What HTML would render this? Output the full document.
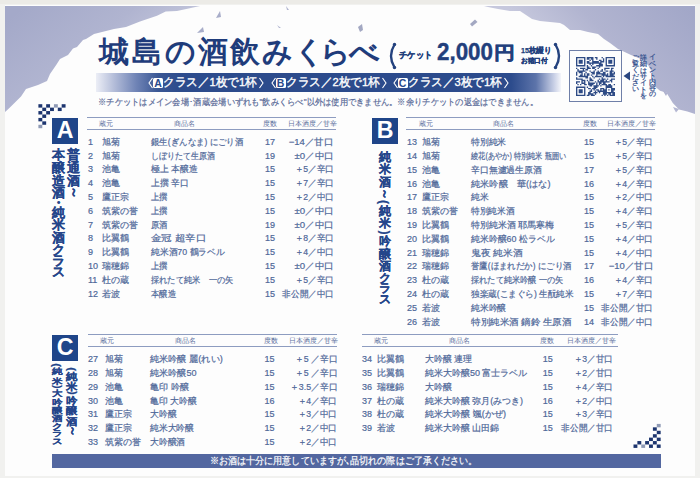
<!DOCTYPE html>
<html><head><meta charset="utf-8">
<style>
*{margin:0;padding:0;box-sizing:border-box}
html,body{width:700px;height:478px;overflow:hidden;background:#f1f1ef}
body{position:relative;font-family:"Liberation Sans",sans-serif;color:#3b5a92}
#paper{position:absolute;left:5px;top:5px;width:690px;height:471px;background:#fdfdfd}
.abs{position:absolute;white-space:nowrap}
.hl{position:absolute;height:1px;background:#8d9cc0}
.hd{position:absolute;font-size:7px;line-height:8px;color:#5a6e9c;white-space:nowrap;text-align:center}
.c{position:absolute;font-size:9px;line-height:12px;white-space:nowrap;color:#4f6899;-webkit-text-stroke:0.2px #4f6899}
.p span{display:inline-block;transform-origin:0 50%}
.v{text-align:right}
.box{position:absolute;background:#1f4589;color:#fff;font-weight:bold;text-align:center}
.vc,.vs{position:absolute;font-weight:bold;text-align:center;white-space:nowrap}
.vc{-webkit-text-stroke:0.2px #24458a}
.vs{font-weight:bold}
.lbox{position:absolute;width:10px;height:10px;background:#fff;color:#2a4a8c;border-radius:1.5px;font-size:10.5px;line-height:10.5px;text-align:center;font-weight:bold}
.tc{position:absolute;top:33px;width:40px;text-align:center;font-size:30px;line-height:38px;font-weight:bold;color:#1f3c7b}
</style></head><body>
<div id="paper"></div>
<svg class="abs" style="left:0;top:0" width="700" height="478" viewBox="0 0 700 478">
<defs>
<linearGradient id="gl" gradientUnits="userSpaceOnUse" x1="20" y1="10" x2="90" y2="100">
<stop offset="0" stop-color="#a4a9c9"/><stop offset="0.6" stop-color="#b0b4d0"/><stop offset="1" stop-color="#c2c5db"/>
</linearGradient>
<linearGradient id="gr" gradientUnits="userSpaceOnUse" x1="690" y1="10" x2="600" y2="100">
<stop offset="0" stop-color="#a2a7c8"/><stop offset="0.6" stop-color="#b1b4d0"/><stop offset="1" stop-color="#c6c8dd"/>
</linearGradient>
</defs>
<rect x="0" y="0" width="700" height="4" fill="#ecebe7"/>
<polygon fill="url(#gl)" points="5,6 200,6 188.6,8.6 177,10.9 165.7,11.4 157,15.7 140,21.4 126,27 114,29 94,34 86,39 83,40 77,47 73,48.5 68,55 60,59 56.5,64.5 50,74 47,81 38,85 26,89 21,96.5 9.4,108 5.6,111.5 5,112"/>
<polygon fill="url(#gr)" points="484,6 695,6 695,114 687.4,111.6 679,109.5 672.8,103 666.5,92.8 660,90.7 655,86.5 652,72 648,65 641,59 631,55 622.5,51 618,49 610,43 604,39 598,34 588,32 580,30 570,30 564,25 560,23 550,22 540,21 532,19 526,15 520,11 510,11 498,9 488,7"/>
<polygon fill="#aeb1cd" points="663,91 667.5,93 666,96"/>
<polygon fill="#b4b7d2" points="673,107 679,109 676,112.6"/>
<polygon fill="#a8adc9" points="216,18 220,11 221,17"/>
<polygon fill="#a8adc9" points="197,33 203,27 204,32"/>
<polygon fill="#b0b4cf" points="286,6 289,10 287,10"/>
<polygon fill="#b0b4cf" points="277,25 281,28 279,28"/>
<polygon fill="#a3a8c2" points="358,27 362,24 363,30 360,32"/>
<polygon fill="#a3a8c2" points="470,24 475,19.5 477.5,22 472,26.5"/>
<rect x="38.4" y="104.2" width="3.88" height="3.43" fill="#1d356f"/>
<rect x="46.16" y="104.2" width="3.88" height="3.43" fill="#1d356f"/>
<rect x="53.92" y="104.2" width="3.88" height="3.43" fill="#8f9ab5"/>
<rect x="61.68" y="104.2" width="3.88" height="3.43" fill="#1d356f"/>
<rect x="42.28" y="107.63" width="3.88" height="3.43" fill="#1d356f"/>
<rect x="50.04" y="107.63" width="3.88" height="3.43" fill="#1d356f"/>
<rect x="57.8" y="107.63" width="3.88" height="3.43" fill="#1d356f"/>
<rect x="38.4" y="111.06" width="3.88" height="3.43" fill="#1d356f"/>
<rect x="46.16" y="111.06" width="3.88" height="3.43" fill="#1d356f"/>
<rect x="42.28" y="114.49" width="3.88" height="3.43" fill="#1d356f"/>
<rect x="38.4" y="117.92" width="3.88" height="3.43" fill="#1d356f"/>
<rect x="42.28" y="121.35" width="3.88" height="3.43" fill="#1d356f"/>
<rect x="38.4" y="124.78" width="3.88" height="3.43" fill="#8f9ab5"/>
<rect x="656.78" y="423.9" width="3.88" height="3.43" fill="#8f9ab5"/>
<rect x="652.9" y="427.33" width="3.88" height="3.43" fill="#1d356f"/>
<rect x="656.78" y="430.76" width="3.88" height="3.43" fill="#1d356f"/>
<rect x="652.9" y="434.19" width="3.88" height="3.43" fill="#1d356f"/>
<rect x="649.02" y="437.62" width="3.88" height="3.43" fill="#1d356f"/>
<rect x="656.78" y="437.62" width="3.88" height="3.43" fill="#1d356f"/>
<rect x="637.38" y="441.05" width="3.88" height="3.43" fill="#1d356f"/>
<rect x="645.14" y="441.05" width="3.88" height="3.43" fill="#1d356f"/>
<rect x="652.9" y="441.05" width="3.88" height="3.43" fill="#1d356f"/>
<rect x="633.5" y="444.48" width="3.88" height="3.43" fill="#1d356f"/>
<rect x="641.26" y="444.48" width="3.88" height="3.43" fill="#8f9ab5"/>
<rect x="649.02" y="444.48" width="3.88" height="3.43" fill="#1d356f"/>
<rect x="656.78" y="444.48" width="3.88" height="3.43" fill="#1d356f"/>
</svg>

<div class="tc" style="left:93.8px">城</div>
<div class="tc" style="left:127.19999999999999px">島</div>
<div class="tc" style="left:160.3px">の</div>
<div class="tc" style="left:192.8px">酒</div>
<div class="tc" style="left:225px">飲</div>
<div class="tc" style="left:257.2px">み</div>
<div class="tc" style="left:289.2px">く</div>
<div class="tc" style="left:315.4px">ら</div>
<div class="tc" style="left:344.6px">べ</div>
<svg class="abs" style="left:386px;top:42px" width="12" height="28" viewBox="0 0 12 28"><path d="M8.5,2.5 Q1.5,14 8.5,25.5" fill="none" stroke="#24427e" stroke-width="2.4" stroke-linecap="round"/><circle cx="8.5" cy="2.5" r="1.7" fill="#24427e"/><circle cx="8.5" cy="25.5" r="1.7" fill="#24427e"/></svg>
<svg class="abs" style="left:552px;top:42px" width="12" height="28" viewBox="0 0 12 28"><path d="M3.5,2.5 Q10.5,14 3.5,25.5" fill="none" stroke="#24427e" stroke-width="2.4" stroke-linecap="round"/><circle cx="3.5" cy="2.5" r="1.7" fill="#24427e"/><circle cx="3.5" cy="25.5" r="1.7" fill="#24427e"/></svg>
<div class="abs" style="left:96px;top:73px;width:465px;height:18.5px;background:linear-gradient(90deg,#eceef6 0px,#b4bdd9 18px,#7084b6 40px,#3a5794 62px,#2c4b8c 85px,#2c4b8c 415px,#5d74aa 440px,#c9d0e6 458px,#f4f5fa 465px)"></div>
<svg class="abs" style="left:148px;top:77px" width="6" height="12" viewBox="0 0 6 12"><path d="M4.5,1 L1,6 L4.5,11" fill="none" stroke="#fff" stroke-width="1.1"/></svg>
<div class="abs lbox" style="left:153px;top:77.5px">A</div>
<div class="abs" style="left:163px;top:75px;font-size:11.5px;line-height:15px;color:#fff;-webkit-text-stroke:0.35px #fff"><span id="p79" style="display:inline-block;transform-origin:0 50%;transform:scaleX(0.971)">クラス／1枚で1杯</span></div>
<svg class="abs" style="left:258px;top:77px" width="6" height="12" viewBox="0 0 6 12"><path d="M1.5,1 L5,6 L1.5,11" fill="none" stroke="#fff" stroke-width="1.1"/></svg>
<svg class="abs" style="left:270.5px;top:77px" width="6" height="12" viewBox="0 0 6 12"><path d="M4.5,1 L1,6 L4.5,11" fill="none" stroke="#fff" stroke-width="1.1"/></svg>
<div class="abs lbox" style="left:275.5px;top:77.5px">B</div>
<div class="abs" style="left:285.5px;top:75px;font-size:11.5px;line-height:15px;color:#fff;-webkit-text-stroke:0.35px #fff"><span id="p80" style="display:inline-block;transform-origin:0 50%;transform:scaleX(0.971)">クラス／2枚で1杯</span></div>
<svg class="abs" style="left:380.5px;top:77px" width="6" height="12" viewBox="0 0 6 12"><path d="M1.5,1 L5,6 L1.5,11" fill="none" stroke="#fff" stroke-width="1.1"/></svg>
<svg class="abs" style="left:392.5px;top:77px" width="6" height="12" viewBox="0 0 6 12"><path d="M4.5,1 L1,6 L4.5,11" fill="none" stroke="#fff" stroke-width="1.1"/></svg>
<div class="abs lbox" style="left:397.5px;top:77.5px">C</div>
<div class="abs" style="left:407.5px;top:75px;font-size:11.5px;line-height:15px;color:#fff;-webkit-text-stroke:0.35px #fff"><span id="p81" style="display:inline-block;transform-origin:0 50%;transform:scaleX(0.971)">クラス／3枚で1杯</span></div>
<svg class="abs" style="left:502.5px;top:77px" width="6" height="12" viewBox="0 0 6 12"><path d="M1.5,1 L5,6 L1.5,11" fill="none" stroke="#fff" stroke-width="1.1"/></svg>
<div class="abs" style="left:98px;top:97px;font-size:8.8px;line-height:11px;color:#5a6b98;-webkit-text-stroke:0.2px #5a6b98"><span id="p82" style="display:inline-block;transform-origin:0 50%;transform:scaleX(0.918)">※チケットはメイン会場･酒蔵会場いずれも"飲みくらべ"以外は使用できません。※余りチケットの返金はできません。</span></div>
<div class="abs" style="left:398.5px;top:50px;font-size:8.5px;line-height:11px;font-weight:bold;color:#223f7c;-webkit-text-stroke:0.3px #223f7c"><span id="p83" style="display:inline-block;transform-origin:0 50%;transform:scaleX(0.931)">チケット</span></div>
<div class="abs" style="left:437px;top:39px;font-size:23.5px;line-height:27px;font-weight:bold;color:#223f7c;-webkit-text-stroke:0.4px #223f7c"><span id="p84" style="display:inline-block;transform-origin:0 50%;transform:scaleX(0.952)">2,000</span></div>
<div class="abs" style="left:493.5px;top:42px;font-size:18px;line-height:22px;font-weight:bold;color:#223f7c;-webkit-text-stroke:0.5px #223f7c"><span id="p85" style="display:inline-block;transform-origin:0 50%;transform:scaleX(1.167)">円</span></div>
<div class="abs" style="left:520.5px;top:45.5px;font-size:7.5px;line-height:10px;font-weight:bold;color:#223f7c;-webkit-text-stroke:0.25px #223f7c"><span id="p86" style="display:inline-block;transform-origin:0 50%;transform:scaleX(0.943)">15枚綴り</span></div>
<div class="abs" style="left:520.5px;top:55.5px;font-size:7px;line-height:10px;font-weight:bold;color:#223f7c;-webkit-text-stroke:0.25px #223f7c"><span id="p87" style="display:inline-block;transform-origin:0 50%;transform:scaleX(0.964)">お猪口付</span></div>
<div class="abs" style="left:52px;top:454px;width:609px;height:14px;background:#5367a0"></div>
<div class="abs" style="left:210px;top:454px;font-size:10px;line-height:14px;color:#fff;-webkit-text-stroke:0.2px #fff"><span id="p88" style="display:inline-block;transform-origin:0 50%;transform:scaleX(0.905)">※お酒は十分に用意していますが､品切れの際はご了承ください。</span></div>
<!-- QR -->
<div class="abs" style="left:569px;top:50px;width:53px;height:52px;border:1px solid #6f7fa8;background:#fdfdfd"></div>
<svg class="abs" style="left:576px;top:57px" width="39" height="39" viewBox="0 0 29 29"><path d="M0,0h1v1h-1zM1,0h1v1h-1zM2,0h1v1h-1zM3,0h1v1h-1zM4,0h1v1h-1zM5,0h1v1h-1zM6,0h1v1h-1zM8,0h1v1h-1zM9,0h1v1h-1zM10,0h1v1h-1zM11,0h1v1h-1zM12,0h1v1h-1zM14,0h1v1h-1zM15,0h1v1h-1zM19,0h1v1h-1zM22,0h1v1h-1zM23,0h1v1h-1zM24,0h1v1h-1zM25,0h1v1h-1zM26,0h1v1h-1zM27,0h1v1h-1zM28,0h1v1h-1zM0,1h1v1h-1zM6,1h1v1h-1zM8,1h1v1h-1zM9,1h1v1h-1zM11,1h1v1h-1zM12,1h1v1h-1zM15,1h1v1h-1zM20,1h1v1h-1zM22,1h1v1h-1zM28,1h1v1h-1zM0,2h1v1h-1zM2,2h1v1h-1zM3,2h1v1h-1zM4,2h1v1h-1zM6,2h1v1h-1zM10,2h1v1h-1zM12,2h1v1h-1zM17,2h1v1h-1zM18,2h1v1h-1zM20,2h1v1h-1zM22,2h1v1h-1zM24,2h1v1h-1zM25,2h1v1h-1zM26,2h1v1h-1zM28,2h1v1h-1zM0,3h1v1h-1zM2,3h1v1h-1zM3,3h1v1h-1zM4,3h1v1h-1zM6,3h1v1h-1zM8,3h1v1h-1zM9,3h1v1h-1zM12,3h1v1h-1zM13,3h1v1h-1zM14,3h1v1h-1zM15,3h1v1h-1zM16,3h1v1h-1zM18,3h1v1h-1zM19,3h1v1h-1zM20,3h1v1h-1zM22,3h1v1h-1zM24,3h1v1h-1zM25,3h1v1h-1zM26,3h1v1h-1zM28,3h1v1h-1zM0,4h1v1h-1zM2,4h1v1h-1zM3,4h1v1h-1zM4,4h1v1h-1zM6,4h1v1h-1zM8,4h1v1h-1zM9,4h1v1h-1zM10,4h1v1h-1zM11,4h1v1h-1zM12,4h1v1h-1zM13,4h1v1h-1zM14,4h1v1h-1zM15,4h1v1h-1zM16,4h1v1h-1zM17,4h1v1h-1zM18,4h1v1h-1zM22,4h1v1h-1zM24,4h1v1h-1zM25,4h1v1h-1zM26,4h1v1h-1zM28,4h1v1h-1zM0,5h1v1h-1zM6,5h1v1h-1zM10,5h1v1h-1zM12,5h1v1h-1zM17,5h1v1h-1zM18,5h1v1h-1zM19,5h1v1h-1zM22,5h1v1h-1zM28,5h1v1h-1zM0,6h1v1h-1zM1,6h1v1h-1zM2,6h1v1h-1zM3,6h1v1h-1zM4,6h1v1h-1zM5,6h1v1h-1zM6,6h1v1h-1zM8,6h1v1h-1zM11,6h1v1h-1zM15,6h1v1h-1zM16,6h1v1h-1zM17,6h1v1h-1zM18,6h1v1h-1zM19,6h1v1h-1zM22,6h1v1h-1zM23,6h1v1h-1zM24,6h1v1h-1zM25,6h1v1h-1zM26,6h1v1h-1zM27,6h1v1h-1zM28,6h1v1h-1zM8,7h1v1h-1zM9,7h1v1h-1zM12,7h1v1h-1zM13,7h1v1h-1zM14,7h1v1h-1zM17,7h1v1h-1zM0,8h1v1h-1zM3,8h1v1h-1zM4,8h1v1h-1zM5,8h1v1h-1zM6,8h1v1h-1zM8,8h1v1h-1zM9,8h1v1h-1zM10,8h1v1h-1zM12,8h1v1h-1zM13,8h1v1h-1zM16,8h1v1h-1zM21,8h1v1h-1zM22,8h1v1h-1zM23,8h1v1h-1zM24,8h1v1h-1zM26,8h1v1h-1zM27,8h1v1h-1zM1,9h1v1h-1zM5,9h1v1h-1zM7,9h1v1h-1zM8,9h1v1h-1zM14,9h1v1h-1zM19,9h1v1h-1zM21,9h1v1h-1zM26,9h1v1h-1zM1,10h1v1h-1zM2,10h1v1h-1zM3,10h1v1h-1zM4,10h1v1h-1zM5,10h1v1h-1zM6,10h1v1h-1zM10,10h1v1h-1zM13,10h1v1h-1zM16,10h1v1h-1zM18,10h1v1h-1zM19,10h1v1h-1zM22,10h1v1h-1zM23,10h1v1h-1zM25,10h1v1h-1zM26,10h1v1h-1zM27,10h1v1h-1zM0,11h1v1h-1zM2,11h1v1h-1zM3,11h1v1h-1zM4,11h1v1h-1zM7,11h1v1h-1zM11,11h1v1h-1zM12,11h1v1h-1zM13,11h1v1h-1zM15,11h1v1h-1zM16,11h1v1h-1zM17,11h1v1h-1zM20,11h1v1h-1zM21,11h1v1h-1zM25,11h1v1h-1zM26,11h1v1h-1zM28,11h1v1h-1zM0,12h1v1h-1zM4,12h1v1h-1zM6,12h1v1h-1zM8,12h1v1h-1zM9,12h1v1h-1zM12,12h1v1h-1zM13,12h1v1h-1zM15,12h1v1h-1zM16,12h1v1h-1zM17,12h1v1h-1zM18,12h1v1h-1zM19,12h1v1h-1zM20,12h1v1h-1zM21,12h1v1h-1zM23,12h1v1h-1zM25,12h1v1h-1zM26,12h1v1h-1zM27,12h1v1h-1zM28,12h1v1h-1zM0,13h1v1h-1zM3,13h1v1h-1zM4,13h1v1h-1zM6,13h1v1h-1zM8,13h1v1h-1zM9,13h1v1h-1zM11,13h1v1h-1zM15,13h1v1h-1zM19,13h1v1h-1zM20,13h1v1h-1zM21,13h1v1h-1zM22,13h1v1h-1zM23,13h1v1h-1zM25,13h1v1h-1zM26,13h1v1h-1zM27,13h1v1h-1zM2,14h1v1h-1zM3,14h1v1h-1zM4,14h1v1h-1zM5,14h1v1h-1zM6,14h1v1h-1zM7,14h1v1h-1zM8,14h1v1h-1zM12,14h1v1h-1zM14,14h1v1h-1zM15,14h1v1h-1zM16,14h1v1h-1zM17,14h1v1h-1zM18,14h1v1h-1zM20,14h1v1h-1zM22,14h1v1h-1zM23,14h1v1h-1zM24,14h1v1h-1zM25,14h1v1h-1zM26,14h1v1h-1zM27,14h1v1h-1zM28,14h1v1h-1zM0,15h1v1h-1zM7,15h1v1h-1zM8,15h1v1h-1zM10,15h1v1h-1zM13,15h1v1h-1zM19,15h1v1h-1zM0,16h1v1h-1zM1,16h1v1h-1zM2,16h1v1h-1zM3,16h1v1h-1zM4,16h1v1h-1zM10,16h1v1h-1zM11,16h1v1h-1zM17,16h1v1h-1zM19,16h1v1h-1zM20,16h1v1h-1zM21,16h1v1h-1zM23,16h1v1h-1zM26,16h1v1h-1zM27,16h1v1h-1zM28,16h1v1h-1zM4,17h1v1h-1zM5,17h1v1h-1zM6,17h1v1h-1zM8,17h1v1h-1zM10,17h1v1h-1zM11,17h1v1h-1zM12,17h1v1h-1zM16,17h1v1h-1zM18,17h1v1h-1zM19,17h1v1h-1zM20,17h1v1h-1zM22,17h1v1h-1zM25,17h1v1h-1zM26,17h1v1h-1zM0,18h1v1h-1zM1,18h1v1h-1zM2,18h1v1h-1zM4,18h1v1h-1zM6,18h1v1h-1zM9,18h1v1h-1zM14,18h1v1h-1zM16,18h1v1h-1zM17,18h1v1h-1zM18,18h1v1h-1zM19,18h1v1h-1zM20,18h1v1h-1zM21,18h1v1h-1zM22,18h1v1h-1zM23,18h1v1h-1zM24,18h1v1h-1zM26,18h1v1h-1zM0,19h1v1h-1zM4,19h1v1h-1zM5,19h1v1h-1zM6,19h1v1h-1zM9,19h1v1h-1zM10,19h1v1h-1zM11,19h1v1h-1zM12,19h1v1h-1zM13,19h1v1h-1zM15,19h1v1h-1zM17,19h1v1h-1zM18,19h1v1h-1zM20,19h1v1h-1zM21,19h1v1h-1zM1,20h1v1h-1zM3,20h1v1h-1zM6,20h1v1h-1zM7,20h1v1h-1zM9,20h1v1h-1zM10,20h1v1h-1zM11,20h1v1h-1zM12,20h1v1h-1zM15,20h1v1h-1zM17,20h1v1h-1zM19,20h1v1h-1zM20,20h1v1h-1zM21,20h1v1h-1zM22,20h1v1h-1zM24,20h1v1h-1zM25,20h1v1h-1zM28,20h1v1h-1zM10,21h1v1h-1zM11,21h1v1h-1zM13,21h1v1h-1zM14,21h1v1h-1zM15,21h1v1h-1zM16,21h1v1h-1zM18,21h1v1h-1zM22,21h1v1h-1zM23,21h1v1h-1zM24,21h1v1h-1zM25,21h1v1h-1zM26,21h1v1h-1zM0,22h1v1h-1zM1,22h1v1h-1zM2,22h1v1h-1zM3,22h1v1h-1zM4,22h1v1h-1zM5,22h1v1h-1zM6,22h1v1h-1zM8,22h1v1h-1zM13,22h1v1h-1zM14,22h1v1h-1zM15,22h1v1h-1zM22,22h1v1h-1zM23,22h1v1h-1zM24,22h1v1h-1zM25,22h1v1h-1zM26,22h1v1h-1zM0,23h1v1h-1zM6,23h1v1h-1zM9,23h1v1h-1zM10,23h1v1h-1zM12,23h1v1h-1zM13,23h1v1h-1zM14,23h1v1h-1zM18,23h1v1h-1zM19,23h1v1h-1zM20,23h1v1h-1zM22,23h1v1h-1zM26,23h1v1h-1zM27,23h1v1h-1zM28,23h1v1h-1zM0,24h1v1h-1zM2,24h1v1h-1zM3,24h1v1h-1zM4,24h1v1h-1zM6,24h1v1h-1zM11,24h1v1h-1zM13,24h1v1h-1zM15,24h1v1h-1zM16,24h1v1h-1zM18,24h1v1h-1zM20,24h1v1h-1zM21,24h1v1h-1zM22,24h1v1h-1zM24,24h1v1h-1zM26,24h1v1h-1zM27,24h1v1h-1zM28,24h1v1h-1zM0,25h1v1h-1zM2,25h1v1h-1zM3,25h1v1h-1zM4,25h1v1h-1zM6,25h1v1h-1zM10,25h1v1h-1zM11,25h1v1h-1zM14,25h1v1h-1zM16,25h1v1h-1zM17,25h1v1h-1zM18,25h1v1h-1zM19,25h1v1h-1zM20,25h1v1h-1zM21,25h1v1h-1zM22,25h1v1h-1zM26,25h1v1h-1zM27,25h1v1h-1zM0,26h1v1h-1zM2,26h1v1h-1zM3,26h1v1h-1zM4,26h1v1h-1zM6,26h1v1h-1zM9,26h1v1h-1zM10,26h1v1h-1zM13,26h1v1h-1zM14,26h1v1h-1zM15,26h1v1h-1zM17,26h1v1h-1zM20,26h1v1h-1zM21,26h1v1h-1zM22,26h1v1h-1zM23,26h1v1h-1zM24,26h1v1h-1zM25,26h1v1h-1zM26,26h1v1h-1zM27,26h1v1h-1zM28,26h1v1h-1zM0,27h1v1h-1zM6,27h1v1h-1zM9,27h1v1h-1zM10,27h1v1h-1zM11,27h1v1h-1zM12,27h1v1h-1zM14,27h1v1h-1zM20,27h1v1h-1zM21,27h1v1h-1zM22,27h1v1h-1zM24,27h1v1h-1zM25,27h1v1h-1zM27,27h1v1h-1zM28,27h1v1h-1zM0,28h1v1h-1zM1,28h1v1h-1zM2,28h1v1h-1zM3,28h1v1h-1zM4,28h1v1h-1zM5,28h1v1h-1zM6,28h1v1h-1zM8,28h1v1h-1zM9,28h1v1h-1zM11,28h1v1h-1zM12,28h1v1h-1zM13,28h1v1h-1zM19,28h1v1h-1zM21,28h1v1h-1zM23,28h1v1h-1zM25,28h1v1h-1zM26,28h1v1h-1zM27,28h1v1h-1zM28,28h1v1h-1z" fill="#2e4b85"/></svg>
<svg class="abs" style="left:623px;top:71px" width="8" height="10" viewBox="0 0 8 10"><polygon points="7,0.5 7,9.5 0.5,5" fill="#2a4680"/></svg>

<!-- section boxes -->
<div class="box" style="left:52px;top:117.5px;width:26px;height:26px;font-size:23.2px;line-height:25.5px">A</div>
<div class="box" style="left:372px;top:117.5px;width:26px;height:26px;font-size:23.2px;line-height:25.5px">B</div>
<div class="box" style="left:52px;top:334.5px;width:26px;height:26px;font-size:23.2px;line-height:25.5px">C</div>

<div class="vc" style="left:51.5px;top:149.4px;width:13px;height:12.599999999999994px;font-size:12.5px;line-height:12.599999999999994px;color:#24458a"><span style="display:inline-block;">本</span></div>
<div class="vc" style="left:51.5px;top:162.0px;width:13px;height:12.599999999999994px;font-size:12.5px;line-height:12.599999999999994px;color:#24458a"><span style="display:inline-block;">醸</span></div>
<div class="vc" style="left:51.5px;top:174.6px;width:13px;height:12.599999999999994px;font-size:12.5px;line-height:12.599999999999994px;color:#24458a"><span style="display:inline-block;">造</span></div>
<div class="vc" style="left:51.5px;top:187.2px;width:13px;height:12.600000000000023px;font-size:12.5px;line-height:12.600000000000023px;color:#24458a"><span style="display:inline-block;">酒</span></div>
<div class="vc" style="left:51.5px;top:199.8px;width:13px;height:7.0px;font-size:12.5px;line-height:7.0px;color:#24458a"><span style="display:inline-block;">・</span></div>
<div class="vc" style="left:51.5px;top:206.8px;width:13px;height:12.599999999999994px;font-size:12.5px;line-height:12.599999999999994px;color:#24458a"><span style="display:inline-block;">純</span></div>
<div class="vc" style="left:51.5px;top:219.4px;width:13px;height:12.599999999999994px;font-size:12.5px;line-height:12.599999999999994px;color:#24458a"><span style="display:inline-block;">米</span></div>
<div class="vc" style="left:51.5px;top:232.0px;width:13px;height:12.599999999999994px;font-size:12.5px;line-height:12.599999999999994px;color:#24458a"><span style="display:inline-block;">酒</span></div>
<div class="vc" style="left:51.5px;top:244.6px;width:13px;height:11.0px;font-size:12.5px;line-height:11.0px;color:#24458a"><span style="display:inline-block;">ク</span></div>
<div class="vc" style="left:51.5px;top:255.6px;width:13px;height:11.000000000000028px;font-size:12.5px;line-height:11.000000000000028px;color:#24458a"><span style="display:inline-block;">ラ</span></div>
<div class="vc" style="left:51.5px;top:266.6px;width:13px;height:11.0px;font-size:12.5px;line-height:11.0px;color:#24458a"><span style="display:inline-block;">ス</span></div>
<div class="vc" style="left:66.5px;top:149.4px;width:13px;height:12.599999999999994px;font-size:12.5px;line-height:12.599999999999994px;color:#24458a"><span style="display:inline-block;">普</span></div>
<div class="vc" style="left:66.5px;top:162.0px;width:13px;height:12.599999999999994px;font-size:12.5px;line-height:12.599999999999994px;color:#24458a"><span style="display:inline-block;">通</span></div>
<div class="vc" style="left:66.5px;top:174.6px;width:13px;height:12.599999999999994px;font-size:12.5px;line-height:12.599999999999994px;color:#24458a"><span style="display:inline-block;">酒</span></div>
<div class="vc" style="left:66.5px;top:187.2px;width:13px;height:11.0px;font-size:12.5px;line-height:11.0px;color:#24458a"><span style="display:inline-block;transform:rotate(90deg)">～</span></div>
<div class="vc" style="left:378px;top:150.7px;width:13px;height:12.600000000000023px;font-size:12.3px;line-height:12.600000000000023px;color:#24458a"><span style="display:inline-block;">純</span></div>
<div class="vc" style="left:378px;top:163.3px;width:13px;height:12.599999999999994px;font-size:12.3px;line-height:12.599999999999994px;color:#24458a"><span style="display:inline-block;">米</span></div>
<div class="vc" style="left:378px;top:175.9px;width:13px;height:12.599999999999994px;font-size:12.3px;line-height:12.599999999999994px;color:#24458a"><span style="display:inline-block;">酒</span></div>
<div class="vc" style="left:378px;top:188.5px;width:13px;height:10.199999999999989px;font-size:12.3px;line-height:10.199999999999989px;color:#24458a"><span style="display:inline-block;transform:rotate(90deg)">～</span></div>
<div class="vc" style="left:378px;top:198.7px;width:13px;height:6.0px;font-size:12.3px;line-height:6.0px;color:#24458a"><span style="display:inline-block;transform:rotate(90deg)">(</span></div>
<div class="vc" style="left:378px;top:204.7px;width:13px;height:12.600000000000023px;font-size:12.3px;line-height:12.600000000000023px;color:#24458a"><span style="display:inline-block;">純</span></div>
<div class="vc" style="left:378px;top:217.3px;width:13px;height:12.599999999999994px;font-size:12.3px;line-height:12.599999999999994px;color:#24458a"><span style="display:inline-block;">米</span></div>
<div class="vc" style="left:378px;top:229.9px;width:13px;height:5.0px;font-size:12.3px;line-height:5.0px;color:#24458a"><span style="display:inline-block;transform:rotate(90deg)">)</span></div>
<div class="vc" style="left:378px;top:234.9px;width:13px;height:12.599999999999994px;font-size:12.3px;line-height:12.599999999999994px;color:#24458a"><span style="display:inline-block;">吟</span></div>
<div class="vc" style="left:378px;top:247.5px;width:13px;height:12.600000000000023px;font-size:12.3px;line-height:12.600000000000023px;color:#24458a"><span style="display:inline-block;">醸</span></div>
<div class="vc" style="left:378px;top:260.1px;width:13px;height:12.599999999999966px;font-size:12.3px;line-height:12.599999999999966px;color:#24458a"><span style="display:inline-block;">酒</span></div>
<div class="vc" style="left:378px;top:272.7px;width:13px;height:10.5px;font-size:12.3px;line-height:10.5px;color:#24458a"><span style="display:inline-block;">ク</span></div>
<div class="vc" style="left:378px;top:283.2px;width:13px;height:10.5px;font-size:12.3px;line-height:10.5px;color:#24458a"><span style="display:inline-block;">ラ</span></div>
<div class="vc" style="left:378px;top:293.7px;width:13px;height:10.5px;font-size:12.3px;line-height:10.5px;color:#24458a"><span style="display:inline-block;">ス</span></div>
<div class="vc" style="left:65.5px;top:366.5px;width:12.5px;height:4.199999999999989px;font-size:11.5px;line-height:4.199999999999989px;color:#24458a"><span style="display:inline-block;transform:rotate(90deg)">(</span></div>
<div class="vc" style="left:65.5px;top:370.7px;width:12.5px;height:10.300000000000011px;font-size:11.5px;line-height:10.300000000000011px;color:#24458a"><span style="display:inline-block;transform:scaleY(0.88)">純</span></div>
<div class="vc" style="left:65.5px;top:381.0px;width:12.5px;height:10.0px;font-size:11.5px;line-height:10.0px;color:#24458a"><span style="display:inline-block;transform:scaleY(0.88)">米</span></div>
<div class="vc" style="left:65.5px;top:391.0px;width:12.5px;height:3.8000000000000114px;font-size:11.5px;line-height:3.8000000000000114px;color:#24458a"><span style="display:inline-block;transform:rotate(90deg)">)</span></div>
<div class="vc" style="left:65.5px;top:394.8px;width:12.5px;height:10.5px;font-size:11.5px;line-height:10.5px;color:#24458a"><span style="display:inline-block;transform:scaleY(0.88)">吟</span></div>
<div class="vc" style="left:65.5px;top:405.3px;width:12.5px;height:10.5px;font-size:11.5px;line-height:10.5px;color:#24458a"><span style="display:inline-block;transform:scaleY(0.88)">醸</span></div>
<div class="vc" style="left:65.5px;top:415.8px;width:12.5px;height:10.5px;font-size:11.5px;line-height:10.5px;color:#24458a"><span style="display:inline-block;transform:scaleY(0.88)">酒</span></div>
<div class="vc" style="left:65.5px;top:426.3px;width:12.5px;height:9.0px;font-size:11.5px;line-height:9.0px;color:#24458a"><span style="display:inline-block;transform:rotate(90deg)">～</span></div>
<div class="vc" style="left:51.5px;top:363.4px;width:11.5px;height:4.0px;font-size:11px;line-height:4.0px;color:#24458a"><span style="display:inline-block;transform:rotate(90deg)">(</span></div>
<div class="vc" style="left:51.5px;top:367.4px;width:11.5px;height:9.5px;font-size:11px;line-height:9.5px;color:#24458a"><span style="display:inline-block;transform:scaleY(0.76)">純</span></div>
<div class="vc" style="left:51.5px;top:376.9px;width:11.5px;height:8.5px;font-size:11px;line-height:8.5px;color:#24458a"><span style="display:inline-block;transform:scaleY(0.76)">米</span></div>
<div class="vc" style="left:51.5px;top:385.4px;width:11.5px;height:3.8000000000000114px;font-size:11px;line-height:3.8000000000000114px;color:#24458a"><span style="display:inline-block;transform:rotate(90deg)">)</span></div>
<div class="vc" style="left:51.5px;top:389.2px;width:11.5px;height:8.400000000000034px;font-size:11px;line-height:8.400000000000034px;color:#24458a"><span style="display:inline-block;transform:scaleY(0.76)">大</span></div>
<div class="vc" style="left:51.5px;top:397.6px;width:11.5px;height:8.399999999999977px;font-size:11px;line-height:8.399999999999977px;color:#24458a"><span style="display:inline-block;transform:scaleY(0.76)">吟</span></div>
<div class="vc" style="left:51.5px;top:406.0px;width:11.5px;height:8.399999999999977px;font-size:11px;line-height:8.399999999999977px;color:#24458a"><span style="display:inline-block;transform:scaleY(0.76)">醸</span></div>
<div class="vc" style="left:51.5px;top:414.4px;width:11.5px;height:8.400000000000034px;font-size:11px;line-height:8.400000000000034px;color:#24458a"><span style="display:inline-block;transform:scaleY(0.76)">酒</span></div>
<div class="vc" style="left:51.5px;top:422.8px;width:11.5px;height:7.399999999999977px;font-size:11px;line-height:7.399999999999977px;color:#24458a"><span style="display:inline-block;transform:scaleY(0.76)">ク</span></div>
<div class="vc" style="left:51.5px;top:430.2px;width:11.5px;height:7.400000000000034px;font-size:11px;line-height:7.400000000000034px;color:#24458a"><span style="display:inline-block;transform:scaleY(0.76)">ラ</span></div>
<div class="vc" style="left:51.5px;top:437.6px;width:11.5px;height:7.399999999999977px;font-size:11px;line-height:7.399999999999977px;color:#24458a"><span style="display:inline-block;transform:scaleY(0.76)">ス</span></div>
<div class="vs" style="left:647.5px;top:54.4px;width:9px;height:6.100000000000001px;font-size:6.5px;line-height:6.100000000000001px;color:#3a5590"><span style="display:inline-block;">イ</span></div>
<div class="vs" style="left:647.5px;top:60.5px;width:9px;height:6.099999999999994px;font-size:6.5px;line-height:6.099999999999994px;color:#3a5590"><span style="display:inline-block;">ベ</span></div>
<div class="vs" style="left:647.5px;top:66.6px;width:9px;height:6.1000000000000085px;font-size:6.5px;line-height:6.1000000000000085px;color:#3a5590"><span style="display:inline-block;">ン</span></div>
<div class="vs" style="left:647.5px;top:72.7px;width:9px;height:6.099999999999994px;font-size:6.5px;line-height:6.099999999999994px;color:#3a5590"><span style="display:inline-block;">ト</span></div>
<div class="vs" style="left:647.5px;top:78.8px;width:9px;height:6.1000000000000085px;font-size:6.5px;line-height:6.1000000000000085px;color:#3a5590"><span style="display:inline-block;">内</span></div>
<div class="vs" style="left:647.5px;top:84.9px;width:9px;height:6.099999999999994px;font-size:6.5px;line-height:6.099999999999994px;color:#3a5590"><span style="display:inline-block;">容</span></div>
<div class="vs" style="left:647.5px;top:91.0px;width:9px;height:6.099999999999994px;font-size:6.5px;line-height:6.099999999999994px;color:#3a5590"><span style="display:inline-block;">の</span></div>
<div class="vs" style="left:638.5px;top:55px;width:9px;height:6.299999999999997px;font-size:6.5px;line-height:6.299999999999997px;color:#3a5590"><span style="display:inline-block;">詳</span></div>
<div class="vs" style="left:638.5px;top:61.3px;width:9px;height:6.299999999999997px;font-size:6.5px;line-height:6.299999999999997px;color:#3a5590"><span style="display:inline-block;">細</span></div>
<div class="vs" style="left:638.5px;top:67.6px;width:9px;height:6.300000000000011px;font-size:6.5px;line-height:6.300000000000011px;color:#3a5590"><span style="display:inline-block;">は</span></div>
<div class="vs" style="left:638.5px;top:73.9px;width:9px;height:6.299999999999997px;font-size:6.5px;line-height:6.299999999999997px;color:#3a5590"><span style="display:inline-block;">サ</span></div>
<div class="vs" style="left:638.5px;top:80.2px;width:9px;height:6.299999999999997px;font-size:6.5px;line-height:6.299999999999997px;color:#3a5590"><span style="display:inline-block;">イ</span></div>
<div class="vs" style="left:638.5px;top:86.5px;width:9px;height:6.299999999999997px;font-size:6.5px;line-height:6.299999999999997px;color:#3a5590"><span style="display:inline-block;">ト</span></div>
<div class="vs" style="left:638.5px;top:92.8px;width:9px;height:6.299999999999997px;font-size:6.5px;line-height:6.299999999999997px;color:#3a5590"><span style="display:inline-block;">を</span></div>
<div class="vs" style="left:630.5px;top:55px;width:9px;height:6.200000000000003px;font-size:6.5px;line-height:6.200000000000003px;color:#3a5590"><span style="display:inline-block;">ご</span></div>
<div class="vs" style="left:630.5px;top:61.2px;width:9px;height:6.200000000000003px;font-size:6.5px;line-height:6.200000000000003px;color:#3a5590"><span style="display:inline-block;">覧</span></div>
<div class="vs" style="left:630.5px;top:67.4px;width:9px;height:6.199999999999989px;font-size:6.5px;line-height:6.199999999999989px;color:#3a5590"><span style="display:inline-block;">く</span></div>
<div class="vs" style="left:630.5px;top:73.6px;width:9px;height:6.200000000000003px;font-size:6.5px;line-height:6.200000000000003px;color:#3a5590"><span style="display:inline-block;">だ</span></div>
<div class="vs" style="left:630.5px;top:79.8px;width:9px;height:6.200000000000003px;font-size:6.5px;line-height:6.200000000000003px;color:#3a5590"><span style="display:inline-block;">さ</span></div>
<div class="vs" style="left:630.5px;top:86.0px;width:9px;height:6.200000000000003px;font-size:6.5px;line-height:6.200000000000003px;color:#3a5590"><span style="display:inline-block;">い</span></div>

<div class="hl" style="left:87px;top:117px;width:249px"></div>
<div class="hl" style="left:87px;top:129px;width:249px"></div>
<div class="hd" style="left:99px;top:120.2px;width:14px">蔵元</div>
<div class="hd" style="left:174px;top:120.2px;width:21.599999999999994px">商品名</div>
<div class="hd" style="left:261.7px;top:120.2px;width:16.30000000000001px">度数</div>
<div class="hd" style="left:288px;top:120.2px;width:46.5px">日本酒度／甘辛</div>
<div class="c" style="left:88px;top:135.8px">1</div>
<div class="c" style="left:102.4px;top:135.8px">旭菊</div>
<div class="c p" style="left:151.3px;top:135.8px"><span id="p1" style="transform:scaleX(0.937)">銀生(ぎんなま) にごり酒</span></div>
<div class="c" style="left:265px;top:135.8px">17</div>
<div class="c v" style="right:366.4px;top:135.8px"><span id="p2" style="display:inline-block;transform-origin:100% 50%;transform:scaleX(1.052)">−14／甘口</span></div>
<div class="c" style="left:88px;top:149.6px">2</div>
<div class="c" style="left:102.4px;top:149.6px">旭菊</div>
<div class="c p" style="left:151.3px;top:149.6px"><span id="p3" style="transform:scaleX(0.885)">しぼりたて生原酒</span></div>
<div class="c" style="left:265px;top:149.6px">19</div>
<div class="c v" style="right:366.4px;top:149.6px"><span id="p4" style="display:inline-block;transform-origin:100% 50%;transform:scaleX(1.069)">±0／中口</span></div>
<div class="c" style="left:88px;top:163.4px">3</div>
<div class="c" style="left:102.4px;top:163.4px">池亀</div>
<div class="c p" style="left:151.3px;top:163.4px"><span id="p5" style="transform:scaleX(0.981)">極上 本醸造</span></div>
<div class="c" style="left:265px;top:163.4px">15</div>
<div class="c v" style="right:366.4px;top:163.4px"><span id="p6" style="display:inline-block;transform-origin:100% 50%;transform:scaleX(0.963)">＋5／辛口</span></div>
<div class="c" style="left:88px;top:177.2px">4</div>
<div class="c" style="left:102.4px;top:177.2px">池亀</div>
<div class="c p" style="left:151.3px;top:177.2px"><span id="p7" style="transform:scaleX(0.979)">上撰 辛口</span></div>
<div class="c" style="left:265px;top:177.2px">15</div>
<div class="c v" style="right:366.4px;top:177.2px"><span id="p8" style="display:inline-block;transform-origin:100% 50%;transform:scaleX(0.963)">＋7／辛口</span></div>
<div class="c" style="left:88px;top:191.0px">5</div>
<div class="c" style="left:102.4px;top:191.0px">鷹正宗</div>
<div class="c p" style="left:151.3px;top:191.0px"><span id="p9" style="transform:scaleX(0.922)">上撰</span></div>
<div class="c" style="left:265px;top:191.0px">15</div>
<div class="c v" style="right:366.4px;top:191.0px"><span id="p10" style="display:inline-block;transform-origin:100% 50%;transform:scaleX(0.963)">＋2／中口</span></div>
<div class="c" style="left:88px;top:204.8px">6</div>
<div class="c" style="left:102.4px;top:204.8px">筑紫の誉</div>
<div class="c p" style="left:151.3px;top:204.8px"><span id="p11" style="transform:scaleX(0.922)">上撰</span></div>
<div class="c" style="left:265px;top:204.8px">15</div>
<div class="c v" style="right:366.4px;top:204.8px"><span id="p12" style="display:inline-block;transform-origin:100% 50%;transform:scaleX(1.069)">±0／中口</span></div>
<div class="c" style="left:88px;top:218.6px">7</div>
<div class="c" style="left:102.4px;top:218.6px">筑紫の誉</div>
<div class="c p" style="left:151.3px;top:218.6px"><span id="p13" style="transform:scaleX(0.922)">原酒</span></div>
<div class="c" style="left:265px;top:218.6px">19</div>
<div class="c v" style="right:366.4px;top:218.6px"><span id="p14" style="display:inline-block;transform-origin:100% 50%;transform:scaleX(1.069)">±0／中口</span></div>
<div class="c" style="left:88px;top:232.4px">8</div>
<div class="c" style="left:102.4px;top:232.4px">比翼鶴</div>
<div class="c p" style="left:151.3px;top:232.4px"><span id="p15" style="transform:scaleX(1.160)">金冠 超辛口</span></div>
<div class="c" style="left:265px;top:232.4px">15</div>
<div class="c v" style="right:366.4px;top:232.4px"><span id="p16" style="display:inline-block;transform-origin:100% 50%;transform:scaleX(0.963)">＋8／辛口</span></div>
<div class="c" style="left:88px;top:246.2px">9</div>
<div class="c" style="left:102.4px;top:246.2px">比翼鶴</div>
<div class="c p" style="left:151.3px;top:246.2px"><span id="p17" style="transform:scaleX(0.976)">純米酒70 鶴ラベル</span></div>
<div class="c" style="left:265px;top:246.2px">15</div>
<div class="c v" style="right:366.4px;top:246.2px"><span id="p18" style="display:inline-block;transform-origin:100% 50%;transform:scaleX(0.963)">＋4／中口</span></div>
<div class="c" style="left:88px;top:260.0px">10</div>
<div class="c" style="left:102.4px;top:260.0px">瑞穂錦</div>
<div class="c p" style="left:151.3px;top:260.0px"><span id="p19" style="transform:scaleX(0.922)">上撰</span></div>
<div class="c" style="left:265px;top:260.0px">15</div>
<div class="c v" style="right:366.4px;top:260.0px"><span id="p20" style="display:inline-block;transform-origin:100% 50%;transform:scaleX(1.069)">±0／中口</span></div>
<div class="c" style="left:88px;top:273.8px">11</div>
<div class="c" style="left:102.4px;top:273.8px">杜の蔵</div>
<div class="c p" style="left:151.3px;top:273.8px"><span id="p21" style="transform:scaleX(0.914)">採れたて純米　一の矢</span></div>
<div class="c" style="left:265px;top:273.8px">15</div>
<div class="c v" style="right:366.4px;top:273.8px"><span id="p22" style="display:inline-block;transform-origin:100% 50%;transform:scaleX(0.963)">＋5／辛口</span></div>
<div class="c" style="left:88px;top:287.6px">12</div>
<div class="c" style="left:102.4px;top:287.6px">若波</div>
<div class="c p" style="left:151.3px;top:287.6px"><span id="p23" style="transform:scaleX(0.930)">本醸造</span></div>
<div class="c" style="left:265px;top:287.6px">15</div>
<div class="c v" style="right:366.4px;top:287.6px"><span id="p24" style="display:inline-block;transform-origin:100% 50%;transform:scaleX(0.956)">非公開／中口</span></div>
<div class="hl" style="left:406px;top:117px;width:249px"></div>
<div class="hl" style="left:406px;top:129px;width:249px"></div>
<div class="hd" style="left:418px;top:120.2px;width:15px">蔵元</div>
<div class="hd" style="left:493px;top:120.2px;width:21.600000000000023px">商品名</div>
<div class="hd" style="left:583px;top:120.2px;width:13.600000000000023px">度数</div>
<div class="hd" style="left:606.7px;top:120.2px;width:47.69999999999993px">日本酒度／甘辛</div>
<div class="c" style="left:407px;top:136.2px">13</div>
<div class="c" style="left:421.5px;top:136.2px">旭菊</div>
<div class="c p" style="left:470.5px;top:136.2px"><span id="p25" style="transform:scaleX(0.981)">特別純米</span></div>
<div class="c" style="left:584px;top:136.2px">15</div>
<div class="c v" style="right:47px;top:136.2px"><span id="p26" style="display:inline-block;transform-origin:100% 50%;transform:scaleX(0.963)">＋5／辛口</span></div>
<div class="c" style="left:407px;top:150.0px">14</div>
<div class="c" style="left:421.5px;top:150.0px">旭菊</div>
<div class="c p" style="left:470.5px;top:150.0px"><span id="p27" style="transform:scaleX(0.800)">綾花(あやか) 特別純米 瓶囲い</span></div>
<div class="c" style="left:584px;top:150.0px">15</div>
<div class="c v" style="right:47px;top:150.0px"><span id="p28" style="display:inline-block;transform-origin:100% 50%;transform:scaleX(0.963)">＋5／辛口</span></div>
<div class="c" style="left:407px;top:163.8px">15</div>
<div class="c" style="left:421.5px;top:163.8px">池亀</div>
<div class="c p" style="left:470.5px;top:163.8px"><span id="p29" style="transform:scaleX(0.985)">辛口無濾過生原酒</span></div>
<div class="c" style="left:584px;top:163.8px">17</div>
<div class="c v" style="right:47px;top:163.8px"><span id="p30" style="display:inline-block;transform-origin:100% 50%;transform:scaleX(0.963)">＋5／辛口</span></div>
<div class="c" style="left:407px;top:177.6px">16</div>
<div class="c" style="left:421.5px;top:177.6px">池亀</div>
<div class="c p" style="left:470.5px;top:177.6px"><span id="p31" style="transform:scaleX(1.019)">純米吟醸　華(はな)</span></div>
<div class="c" style="left:584px;top:177.6px">16</div>
<div class="c v" style="right:47px;top:177.6px"><span id="p32" style="display:inline-block;transform-origin:100% 50%;transform:scaleX(0.963)">＋4／辛口</span></div>
<div class="c" style="left:407px;top:191.4px">17</div>
<div class="c" style="left:421.5px;top:191.4px">鷹正宗</div>
<div class="c p" style="left:470.5px;top:191.4px"><span id="p33" style="transform:scaleX(0.972)">純米</span></div>
<div class="c" style="left:584px;top:191.4px">15</div>
<div class="c v" style="right:47px;top:191.4px"><span id="p34" style="display:inline-block;transform-origin:100% 50%;transform:scaleX(0.963)">＋2／中口</span></div>
<div class="c" style="left:407px;top:205.2px">18</div>
<div class="c" style="left:421.5px;top:205.2px">筑紫の誉</div>
<div class="c p" style="left:470.5px;top:205.2px"><span id="p35" style="transform:scaleX(0.967)">特別純米酒</span></div>
<div class="c" style="left:584px;top:205.2px">15</div>
<div class="c v" style="right:47px;top:205.2px"><span id="p36" style="display:inline-block;transform-origin:100% 50%;transform:scaleX(0.963)">＋4／辛口</span></div>
<div class="c" style="left:407px;top:219.0px">19</div>
<div class="c" style="left:421.5px;top:219.0px">比翼鶴</div>
<div class="c p" style="left:470.5px;top:219.0px"><span id="p37" style="transform:scaleX(0.988)">特別純米酒 耶馬寒梅</span></div>
<div class="c" style="left:584px;top:219.0px">15</div>
<div class="c v" style="right:47px;top:219.0px"><span id="p38" style="display:inline-block;transform-origin:100% 50%;transform:scaleX(0.963)">＋5／辛口</span></div>
<div class="c" style="left:407px;top:232.8px">20</div>
<div class="c" style="left:421.5px;top:232.8px">比翼鶴</div>
<div class="c p" style="left:470.5px;top:232.8px"><span id="p39" style="transform:scaleX(0.988)">純米吟醸60 松ラベル</span></div>
<div class="c" style="left:584px;top:232.8px">15</div>
<div class="c v" style="right:47px;top:232.8px"><span id="p40" style="display:inline-block;transform-origin:100% 50%;transform:scaleX(0.963)">＋4／中口</span></div>
<div class="c" style="left:407px;top:246.6px">21</div>
<div class="c" style="left:421.5px;top:246.6px">瑞穂錦</div>
<div class="c p" style="left:470.5px;top:246.6px"><span id="p41" style="transform:scaleX(1.084)">鬼夜 純米酒</span></div>
<div class="c" style="left:584px;top:246.6px">15</div>
<div class="c v" style="right:47px;top:246.6px"><span id="p42" style="display:inline-block;transform-origin:100% 50%;transform:scaleX(0.963)">＋4／中口</span></div>
<div class="c" style="left:407px;top:260.4px">22</div>
<div class="c" style="left:421.5px;top:260.4px">瑞穂錦</div>
<div class="c p" style="left:470.5px;top:260.4px"><span id="p43" style="transform:scaleX(0.935)">誉鷹(ほまれだか) にごり酒</span></div>
<div class="c" style="left:584px;top:260.4px">17</div>
<div class="c v" style="right:47px;top:260.4px"><span id="p44" style="display:inline-block;transform-origin:100% 50%;transform:scaleX(1.052)">−10／甘口</span></div>
<div class="c" style="left:407px;top:274.2px">23</div>
<div class="c" style="left:421.5px;top:274.2px">杜の蔵</div>
<div class="c p" style="left:470.5px;top:274.2px"><span id="p45" style="transform:scaleX(0.911)">採れたて純米吟醸 一の矢</span></div>
<div class="c" style="left:584px;top:274.2px">16</div>
<div class="c v" style="right:47px;top:274.2px"><span id="p46" style="display:inline-block;transform-origin:100% 50%;transform:scaleX(0.963)">＋4／辛口</span></div>
<div class="c" style="left:407px;top:288.0px">24</div>
<div class="c" style="left:421.5px;top:288.0px">杜の蔵</div>
<div class="c p" style="left:470.5px;top:288.0px"><span id="p47" style="transform:scaleX(0.953)">独楽蔵(こまぐら) 生酛純米</span></div>
<div class="c" style="left:584px;top:288.0px">15</div>
<div class="c v" style="right:47px;top:288.0px"><span id="p48" style="display:inline-block;transform-origin:100% 50%;transform:scaleX(0.963)">＋7／辛口</span></div>
<div class="c" style="left:407px;top:301.8px">25</div>
<div class="c" style="left:421.5px;top:301.8px">若波</div>
<div class="c p" style="left:470.5px;top:301.8px"><span id="p49" style="transform:scaleX(0.981)">純米吟醸</span></div>
<div class="c" style="left:584px;top:301.8px">15</div>
<div class="c v" style="right:47px;top:301.8px"><span id="p50" style="display:inline-block;transform-origin:100% 50%;transform:scaleX(0.956)">非公開／甘口</span></div>
<div class="c" style="left:407px;top:315.6px">26</div>
<div class="c" style="left:421.5px;top:315.6px">若波</div>
<div class="c p" style="left:470.5px;top:315.6px"><span id="p51" style="transform:scaleX(1.058)">特別純米酒 鏑鈴 生原酒</span></div>
<div class="c" style="left:584px;top:315.6px">14</div>
<div class="c v" style="right:47px;top:315.6px"><span id="p52" style="display:inline-block;transform-origin:100% 50%;transform:scaleX(0.956)">非公開／中口</span></div>
<div class="hl" style="left:87.5px;top:334px;width:249.5px"></div>
<div class="hl" style="left:87.5px;top:346px;width:249.5px"></div>
<div class="hd" style="left:100px;top:337.2px;width:14px">蔵元</div>
<div class="hd" style="left:175px;top:337.2px;width:20.5px">商品名</div>
<div class="hd" style="left:263.8px;top:337.2px;width:13.899999999999977px">度数</div>
<div class="hd" style="left:289px;top:337.2px;width:46.5px">日本酒度／甘辛</div>
<div class="c" style="left:88px;top:352.7px">27</div>
<div class="c" style="left:105px;top:352.7px">旭菊</div>
<div class="c p" style="left:150.3px;top:352.7px"><span id="p53" style="transform:scaleX(1.017)">純米吟醸 麗(れい)</span></div>
<div class="c" style="left:264.6px;top:352.7px">15</div>
<div class="c v" style="right:362.5px;top:352.7px"><span id="p54" style="display:inline-block;transform-origin:100% 50%;transform:scaleX(0.977)">＋5 ／辛口</span></div>
<div class="c" style="left:88px;top:366.6px">28</div>
<div class="c" style="left:105px;top:366.6px">旭菊</div>
<div class="c p" style="left:150.3px;top:366.6px"><span id="p55" style="transform:scaleX(1.011)">純米吟醸50</span></div>
<div class="c" style="left:264.6px;top:366.6px">15</div>
<div class="c v" style="right:362.5px;top:366.6px"><span id="p56" style="display:inline-block;transform-origin:100% 50%;transform:scaleX(0.977)">＋5 ／辛口</span></div>
<div class="c" style="left:88px;top:380.6px">29</div>
<div class="c" style="left:105px;top:380.6px">池亀</div>
<div class="c p" style="left:150.3px;top:380.6px"><span id="p57" style="transform:scaleX(1.005)">亀印 吟醸</span></div>
<div class="c" style="left:264.6px;top:380.6px">15</div>
<div class="c v" style="right:362.5px;top:380.6px"><span id="p58" style="display:inline-block;transform-origin:100% 50%;transform:scaleX(0.979)">＋3.5／辛口</span></div>
<div class="c" style="left:88px;top:394.5px">30</div>
<div class="c" style="left:105px;top:394.5px">池亀</div>
<div class="c p" style="left:150.3px;top:394.5px"><span id="p59" style="transform:scaleX(0.979)">亀印 大吟醸</span></div>
<div class="c" style="left:264.6px;top:394.5px">16</div>
<div class="c v" style="right:362.5px;top:394.5px"><span id="p60" style="display:inline-block;transform-origin:100% 50%;transform:scaleX(0.963)">＋4／辛口</span></div>
<div class="c" style="left:88px;top:408.4px">31</div>
<div class="c" style="left:105px;top:408.4px">鷹正宗</div>
<div class="c p" style="left:150.3px;top:408.4px"><span id="p61" style="transform:scaleX(0.978)">大吟醸</span></div>
<div class="c" style="left:264.6px;top:408.4px">15</div>
<div class="c v" style="right:362.5px;top:408.4px"><span id="p62" style="display:inline-block;transform-origin:100% 50%;transform:scaleX(0.963)">＋3／中口</span></div>
<div class="c" style="left:88px;top:422.4px">32</div>
<div class="c" style="left:105px;top:422.4px">鷹正宗</div>
<div class="c p" style="left:150.3px;top:422.4px"><span id="p63" style="transform:scaleX(0.978)">純米大吟醸</span></div>
<div class="c" style="left:264.6px;top:422.4px">15</div>
<div class="c v" style="right:362.5px;top:422.4px"><span id="p64" style="display:inline-block;transform-origin:100% 50%;transform:scaleX(0.963)">＋2／中口</span></div>
<div class="c" style="left:88px;top:436.3px">33</div>
<div class="c" style="left:105px;top:436.3px">筑紫の誉</div>
<div class="c p" style="left:150.3px;top:436.3px"><span id="p65" style="transform:scaleX(0.978)">大吟醸酒</span></div>
<div class="c" style="left:264.6px;top:436.3px">15</div>
<div class="c v" style="right:362.5px;top:436.3px"><span id="p66" style="display:inline-block;transform-origin:100% 50%;transform:scaleX(0.963)">＋2／中口</span></div>
<div class="hl" style="left:362px;top:334px;width:256px"></div>
<div class="hl" style="left:362px;top:346px;width:256px"></div>
<div class="hd" style="left:374.4px;top:337.2px;width:13.800000000000011px">蔵元</div>
<div class="hd" style="left:449px;top:337.2px;width:21.30000000000001px">商品名</div>
<div class="hd" style="left:539.4px;top:337.2px;width:15.100000000000023px">度数</div>
<div class="hd" style="left:567px;top:337.2px;width:47px">日本酒度／甘辛</div>
<div class="c" style="left:362px;top:352.7px">34</div>
<div class="c" style="left:377px;top:352.7px">比翼鶴</div>
<div class="c p" style="left:424.6px;top:352.7px"><span id="p67" style="transform:scaleX(0.989)">大吟醸 連理</span></div>
<div class="c" style="left:542.7px;top:352.7px">15</div>
<div class="c v" style="right:86.6px;top:352.7px"><span id="p68" style="display:inline-block;transform-origin:100% 50%;transform:scaleX(0.963)">＋3／甘口</span></div>
<div class="c" style="left:362px;top:366.6px">35</div>
<div class="c" style="left:377px;top:366.6px">比翼鶴</div>
<div class="c p" style="left:424.6px;top:366.6px"><span id="p69" style="transform:scaleX(0.998)">純米大吟醸50 富士ラベル</span></div>
<div class="c" style="left:542.7px;top:366.6px">15</div>
<div class="c v" style="right:86.6px;top:366.6px"><span id="p70" style="display:inline-block;transform-origin:100% 50%;transform:scaleX(0.963)">＋2／甘口</span></div>
<div class="c" style="left:362px;top:380.6px">36</div>
<div class="c" style="left:377px;top:380.6px">瑞穂錦</div>
<div class="c p" style="left:424.6px;top:380.6px"><span id="p71" style="transform:scaleX(0.996)">大吟醸</span></div>
<div class="c" style="left:542.7px;top:380.6px">15</div>
<div class="c v" style="right:86.6px;top:380.6px"><span id="p72" style="display:inline-block;transform-origin:100% 50%;transform:scaleX(0.963)">＋4／辛口</span></div>
<div class="c" style="left:362px;top:394.5px">37</div>
<div class="c" style="left:377px;top:394.5px">杜の蔵</div>
<div class="c p" style="left:424.6px;top:394.5px"><span id="p73" style="transform:scaleX(0.995)">純米大吟醸 弥月(みつき)</span></div>
<div class="c" style="left:542.7px;top:394.5px">16</div>
<div class="c v" style="right:86.6px;top:394.5px"><span id="p74" style="display:inline-block;transform-origin:100% 50%;transform:scaleX(0.963)">＋2／中口</span></div>
<div class="c" style="left:362px;top:408.4px">38</div>
<div class="c" style="left:377px;top:408.4px">杜の蔵</div>
<div class="c p" style="left:424.6px;top:408.4px"><span id="p75" style="transform:scaleX(1.005)">純米大吟醸 颯(かぜ)</span></div>
<div class="c" style="left:542.7px;top:408.4px">15</div>
<div class="c v" style="right:86.6px;top:408.4px"><span id="p76" style="display:inline-block;transform-origin:100% 50%;transform:scaleX(0.963)">＋3／辛口</span></div>
<div class="c" style="left:362px;top:422.4px">39</div>
<div class="c" style="left:377px;top:422.4px">若波</div>
<div class="c p" style="left:424.6px;top:422.4px"><span id="p77" style="transform:scaleX(0.992)">純米大吟醸 山田錦</span></div>
<div class="c" style="left:542.7px;top:422.4px">15</div>
<div class="c v" style="right:86.6px;top:422.4px"><span id="p78" style="display:inline-block;transform-origin:100% 50%;transform:scaleX(0.956)">非公開／甘口</span></div>

<!-- bottom band -->



</body></html>
